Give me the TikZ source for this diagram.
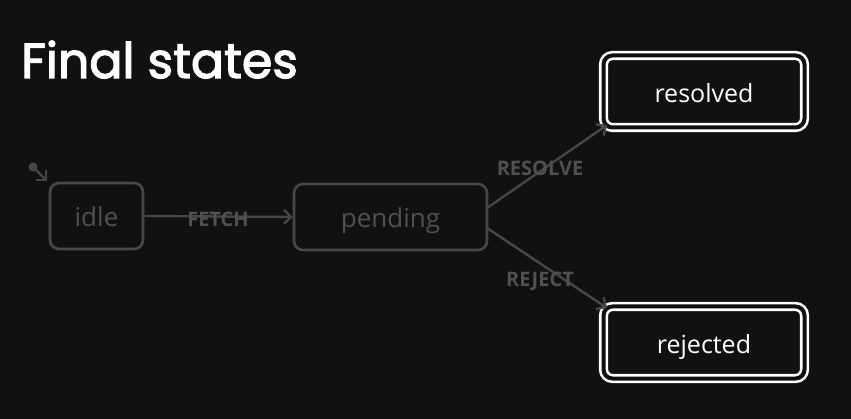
\documentclass[tikz,border=0pt]{standalone}
\usepackage{fontspec}
\setmainfont{Open Sans}
\newfontfamily\titlefont[FakeBold=2.5]{Poppins}
\usetikzlibrary{arrows.meta}
\definecolor{bg}{HTML}{111111}
\definecolor{faded}{HTML}{474747}
\definecolor{fadedtxt}{HTML}{505050}
\tikzset{
  statebox/.style={draw=faded, line width=2.6pt, rounded corners=9pt, text=fadedtxt, font=\fontsize{26}{28}\selectfont, inner sep=0pt, text height=22pt, text depth=0pt},
  finalbox/.style={draw=white, line width=2.6pt, rounded corners=9pt, text=white, font=\fontsize{25}{28}\selectfont, inner sep=0pt,
     double=bg, double distance=4pt, text height=22pt, text depth=0pt},
  trans/.style={draw=faded, line width=2.4pt, -{Straight Barb[length=7pt,width=14pt,line width=2.4pt]}},
  evlabel/.style={text=fadedtxt, font=\bfseries\fontsize{20}{22}\selectfont, inner sep=0pt}
}
\begin{document}
\begin{tikzpicture}[x=1pt,y=-1pt]
\fill[bg] (0,0) rectangle (851,419);
\useasboundingbox (0,0) rectangle (851,419);
\node[anchor=base west, text=white, font=\titlefont\fontsize{49}{52}\selectfont, inner sep=0pt] (title) at (21,78) {Final states};
\node[statebox, minimum width=93pt, minimum height=66pt] (idle) at (96.5,216) {idle};
\node[statebox, minimum width=193pt, minimum height=66pt] (pending) at (390.5,217) {pending};
\node[finalbox, minimum width=201pt, minimum height=72pt] (resolved) at (704,91.5) {resolved};
\node[finalbox, minimum width=201pt, minimum height=72pt] (rejected) at (704,342.5) {rejected};
\fill[faded] (33,167) circle (4.5pt) coordinate (init);
\coordinate (initend) at (47,181);
\draw[trans] (init) -- (initend);
\draw[trans] (idle.east) -- (pending.west);
\coordinate (resin) at (607,125);
\coordinate (rejin) at (607,308);
\coordinate (pout1) at (487,208);
\coordinate (pout2) at (487,228);
\draw[trans] (pout1) -- (resin);
\draw[trans] (pout2) -- (rejin);
\node[evlabel] (fetch) at (218,219) {FETCH};
\node[evlabel] (resolve) at (540,168) {RESOLVE};
\node[evlabel] (reject) at (540,281) {REJECT};
\end{tikzpicture}
\end{document}
